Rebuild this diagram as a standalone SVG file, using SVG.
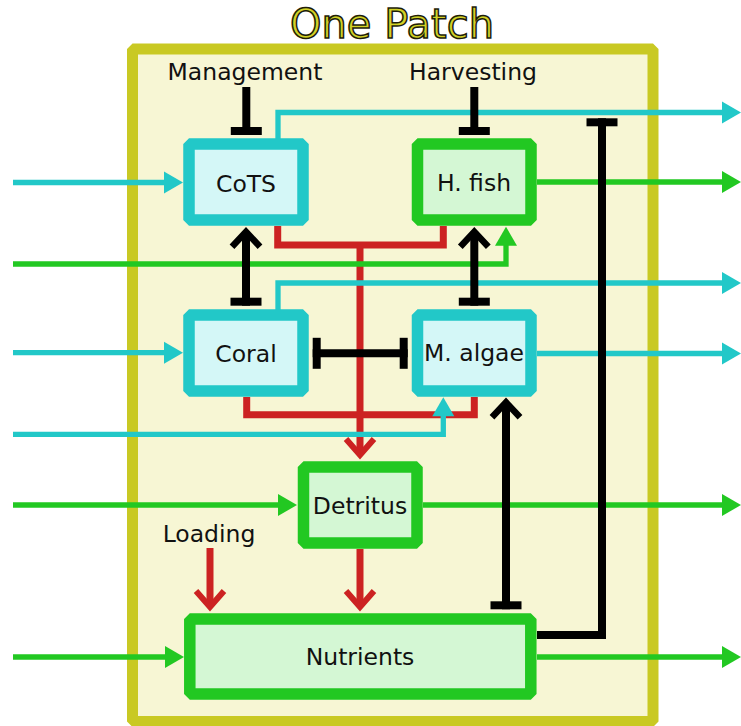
<svg xmlns="http://www.w3.org/2000/svg" width="741" height="726" viewBox="0 0 741 726">
<style>
text{font-family:"DejaVu Sans","Verdana","Liberation Sans",sans-serif;font-size:23.5px;fill:#111;text-anchor:middle}
.title{font-size:40px;fill:#d2d226;stroke:#1e1e0a;stroke-width:1.5}
.nc rect{fill:#d4f7f7;stroke:#22c8c8;stroke-width:11.5;stroke-linejoin:bevel}
.ng rect{fill:#d4f7d4;stroke:#22c822;stroke-width:11.5;stroke-linejoin:bevel}
.cy{fill:none;stroke:#22c8c8;stroke-width:5.3;marker-end:url(#ac)}
.gr{fill:none;stroke:#22c822;stroke-width:5.3;marker-end:url(#ag)}
.rd{fill:none;stroke:#cc2222;stroke-width:7}
.rda{marker-end:url(#vr)}
.bk{fill:none;stroke:#000;stroke-width:8}
</style>
<defs>
<marker id="ac" markerUnits="userSpaceOnUse" markerWidth="1" markerHeight="1" overflow="visible" orient="auto"><path d="M-4,-11 L15,0 L-4,11 Z" fill="#22c8c8"/></marker>
<marker id="ag" markerUnits="userSpaceOnUse" markerWidth="1" markerHeight="1" overflow="visible" orient="auto"><path d="M-4,-11 L15,0 L-4,11 Z" fill="#22c822"/></marker>
<marker id="vr" markerUnits="userSpaceOnUse" markerWidth="1" markerHeight="1" overflow="visible" orient="auto"><path d="M-16,-14 L0,0 L-16,14" fill="none" stroke="#cc2222" stroke-width="6"/></marker>
<marker id="vb" markerUnits="userSpaceOnUse" markerWidth="1" markerHeight="1" overflow="visible" orient="auto"><path d="M-15,-14 L0,0 L-15,14" fill="none" stroke="#000" stroke-width="6.5"/></marker>
<marker id="tb" markerUnits="userSpaceOnUse" markerWidth="1" markerHeight="1" overflow="visible" orient="auto-start-reverse"><rect x="-8" y="-15.5" width="8" height="31" fill="#000"/></marker>
</defs>
<rect x="132.5" y="49" width="520.5" height="672.5" fill="#f7f6d4" stroke="#c9c923" stroke-width="11" stroke-linejoin="bevel"/>
<text class="title" x="392" y="38">One Patch</text>
<text x="245" y="80">Management</text>
<text x="473" y="80">Harvesting</text>
<text x="209" y="542">Loading</text>
<g id="connectors">
<path class="rd" d="M277.7,226 V245 H443.3 V226"/>
<path class="rd rda" d="M360,245 V455"/>
<path class="rd" d="M246.7,397 V414.7 H474.3 V397"/>
<path class="rd rda" d="M360,549 V607"/>
<path class="rd rda" d="M210,548 V607"/>
<path class="cy" d="M278,139 V112.5 H726"/>
<path class="cy" d="M278,310 V283 H726"/>
<path class="cy" d="M537,353.5 H726"/>
<path class="cy" d="M13,182.5 H168"/>
<path class="cy" d="M13,352.7 H168"/>
<path class="cy" d="M13,434.3 H443.3 V412.3"/>
<path class="gr" d="M537,182 H726"/>
<path class="gr" d="M13,264 H506 V241.7"/>
<path class="gr" d="M13,505 H282"/>
<path class="gr" d="M423,505 H726"/>
<path class="gr" d="M13,657 H169"/>
<path class="gr" d="M537,657 H726"/>
<path class="bk" d="M246,305.7 V231.7" marker-start="url(#tb)" marker-end="url(#vb)"/>
<path class="bk" d="M474.3,305.7 V231.7" marker-start="url(#tb)" marker-end="url(#vb)"/>
<path class="bk" d="M312.7,353.3 H407.7" marker-start="url(#tb)" marker-end="url(#tb)"/>
<path class="bk" d="M506,609.3 V402.3" marker-start="url(#tb)" marker-end="url(#vb)"/>
<path class="bk" d="M246.3,87 V135" marker-end="url(#tb)"/>
<path class="bk" d="M474.3,87 V135" marker-end="url(#tb)"/>
<path class="bk" d="M537,635 H602 V118.3" marker-end="url(#tb)"/>
</g>
<g id="cots" class="nc"><rect x="189" y="144" width="114" height="76"/><text x="246" y="191.5">CoTS</text></g>
<g id="hfish" class="ng"><rect x="417.5" y="144" width="113.5" height="76"/><text x="474" y="191">H. fish</text></g>
<g id="coral" class="nc"><rect x="189" y="315" width="114" height="76"/><text x="246" y="361.5">Coral</text></g>
<g id="malgae" class="nc"><rect x="417.5" y="315" width="113.5" height="76"/><text x="474" y="360.5">M. algae</text></g>
<g id="detritus" class="ng"><rect x="303.5" y="467" width="113.5" height="76"/><text x="360" y="514">Detritus</text></g>
<g id="nutrients" class="ng"><rect x="189.8" y="619" width="341" height="75"/><text x="360" y="665">Nutrients</text></g>
</svg>
